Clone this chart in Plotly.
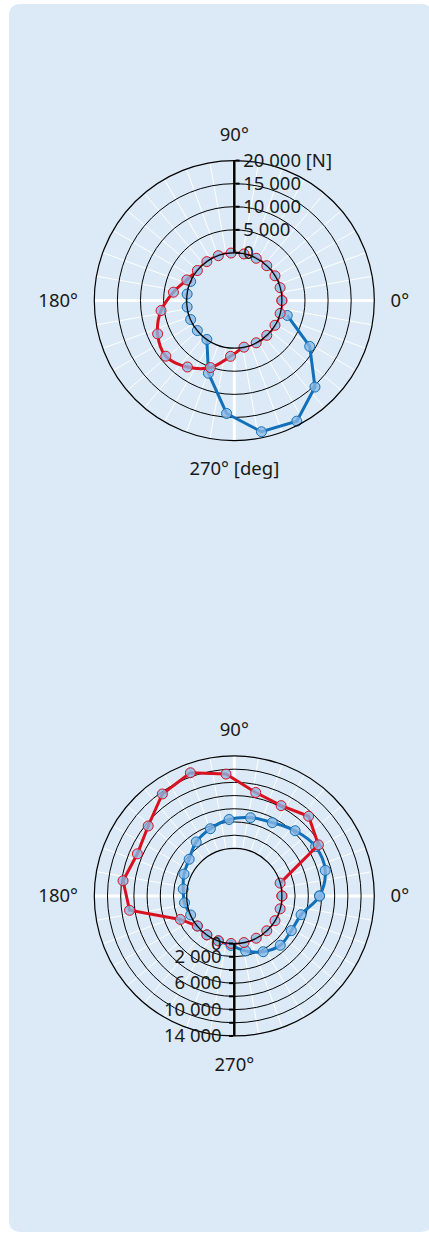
import plotly.graph_objects as go

# Angular positions of the measurement points [deg]
theta = [0, 15.7, 31.3, 47.0, 62.6, 78.3, 93.9, 109.6, 125.2, 140.9, 156.5, 172.2,
         187.8, 203.5, 219.1, 234.8, 250.4, 266.1, 281.7, 297.4, 313.0, 328.7, 344.3]

# Upper diagram: force [N]
top_red = [0, 0, 0, 0, 0, 0, 0, 0, 0, 0, 900, 3000,
           5700, 7800, 8800, 7300, 5100, 1800, 0, 0, 0, 0, 0]
top_blue_theta = [156.5, 172.2, 187.8, 203.5, 219.1, 234.8, 250.4, 266.1,
                  281.7, 297.4, 313.0, 328.7, 344.3]
top_blue = [0, 0, 0, 0, 0, 0, 6400, 14200, 18700, 19100, 15300, 8800, 1600]

# Lower diagram
bot_red = [0, 0, 7700, 9300, 8200, 8800, 11300, 12600, 11700, 9600, 8800, 9800,
           8800, 1700, 0, 0, 0, 0, 0, 0, 0, 0, 0]
bot_blue = [5700, 7100, 7200, 6300, 5300, 4900, 4400, 3600, 2800, 1600, 1100, 600,
            400, 0, 0, 0, 0, 300, 1300, 2300, 3000, 2900, 3300]

top_ticks = [0, 5000, 10000, 15000, 20000]
top_ticktext = ["0", "5 000", "10 000", "15 000", "20 000 [N]"]
bot_ticks = [0, 2000, 4000, 6000, 8000, 10000, 12000, 14000]
bot_ticktext = ["0", "2 000", "", "6 000", "", "10 000", "", "14 000"]

ang_ticks = list(range(0, 360, 10))
top_angtext = {0: "0°", 90: "90°", 180: "180°", 270: "270° [deg]"}
bot_angtext = {0: "0°", 90: "90°", 180: "180°", 270: "270°"}

RED = "#d8101f"
BLUE = "#1170b9"
FILL = "rgba(140,184,228,0.78)"
PANEL = "#dbeaf6"
FONT = "Noto Sans"


def closed(values):
    return list(values) + [values[0]]


fig = go.Figure()

# empty traces so the spoke layers are rendered
fig.add_trace(go.Scatterpolar(r=[], theta=[], subplot="polar", showlegend=False))
fig.add_trace(go.Scatterpolar(r=[], theta=[], subplot="polar3", showlegend=False))

mk = lambda c: dict(size=10, color=FILL, line=dict(color=c, width=1))

fig.add_trace(go.Scatterpolar(
    r=top_blue, theta=top_blue_theta, subplot="polar2", mode="lines+markers",
    line=dict(color=BLUE, width=3, shape="linear"), marker=mk(BLUE), showlegend=False))
fig.add_trace(go.Scatterpolar(
    r=closed(top_red), theta=closed(theta), subplot="polar2", mode="lines+markers",
    line=dict(color=RED, width=3, shape="spline"), marker=mk(RED), showlegend=False))

fig.add_trace(go.Scatterpolar(
    r=closed(bot_blue), theta=closed(theta), subplot="polar4", mode="lines+markers",
    line=dict(color=BLUE, width=3, shape="spline"), marker=mk(BLUE), showlegend=False))
fig.add_trace(go.Scatterpolar(
    r=closed(bot_red), theta=closed(theta), subplot="polar4", mode="lines+markers",
    line=dict(color=RED, width=3, shape="linear"), marker=mk(RED), showlegend=False))

HOLE = 0.34
dom_x = [0.2198, 0.8725]
dom_top = [0.6427, 0.8698]
dom_bot = [0.1598, 0.3869]

tickfont = dict(family=FONT, size=18.5, color="#1a1a1a")


def spokes(domain):
    return dict(
        domain=dict(x=dom_x, y=domain), hole=HOLE, bgcolor="rgba(0,0,0,0)",
        radialaxis=dict(visible=False, showgrid=False),
        angularaxis=dict(tickvals=[0, 90, 180, 270], showticklabels=False, ticks="",
                         showline=False, gridcolor="white", gridwidth=2.5),
    )


def main(domain, rng, angle, label_angle, tv, tt, angtext):
    return dict(
        domain=dict(x=dom_x, y=domain), hole=HOLE, bgcolor="rgba(0,0,0,0)",
        radialaxis=dict(range=rng, angle=angle, side="clockwise", tickangle=label_angle,
                        tickvals=tv, ticktext=tt, showline=True, linecolor="black",
                        linewidth=2.5, gridcolor="black", gridwidth=1.2,
                        ticks="outside", ticklen=4, tickwidth=1.5, tickcolor="black",
                        tickfont=tickfont),
        angularaxis=dict(tickvals=ang_ticks,
                         ticktext=[angtext.get(a, "") for a in ang_ticks],
                         direction="counterclockwise", rotation=0,
                         showline=True, linecolor="black", linewidth=1.2,
                         gridcolor="white", gridwidth=1,
                         ticks="outside", ticklen=12, tickcolor="rgba(0,0,0,0)",
                         tickfont=tickfont),
    )


# rounded background panel (paper coordinates)
W, H = 429, 1233
x0, x1 = 9 / W, 433 / W
y0, y1 = 1 - 1232 / H, 1 - 4 / H
rx, ry = 12 / W, 12 / H
panel = (f"M {x0+rx},{y1} L {x1-rx},{y1} Q {x1},{y1} {x1},{y1-ry} "
         f"L {x1},{y0+ry} Q {x1},{y0} {x1-rx},{y0} L {x0+rx},{y0} "
         f"Q {x0},{y0} {x0},{y0+ry} L {x0},{y1-ry} Q {x0},{y1} {x0+rx},{y1} Z")

fig.update_layout(
    width=W, height=H, margin=dict(l=0, r=0, t=0, b=0),
    paper_bgcolor="white", plot_bgcolor="rgba(0,0,0,0)",
    font=dict(family=FONT, size=18.5, color="#1a1a1a"),
    polar=spokes(dom_top),
    polar2=main(dom_top, [0, 20000], 90, 90, top_ticks, top_ticktext, top_angtext),
    polar3=spokes(dom_bot),
    polar4=main(dom_bot, [0, 14000], 270, -90, bot_ticks, bot_ticktext, bot_angtext),
    shapes=[dict(type="path", xref="paper", yref="paper", path=panel,
                 fillcolor=PANEL, line=dict(width=0), layer="below")],
)

fig.write_html("out.html")
